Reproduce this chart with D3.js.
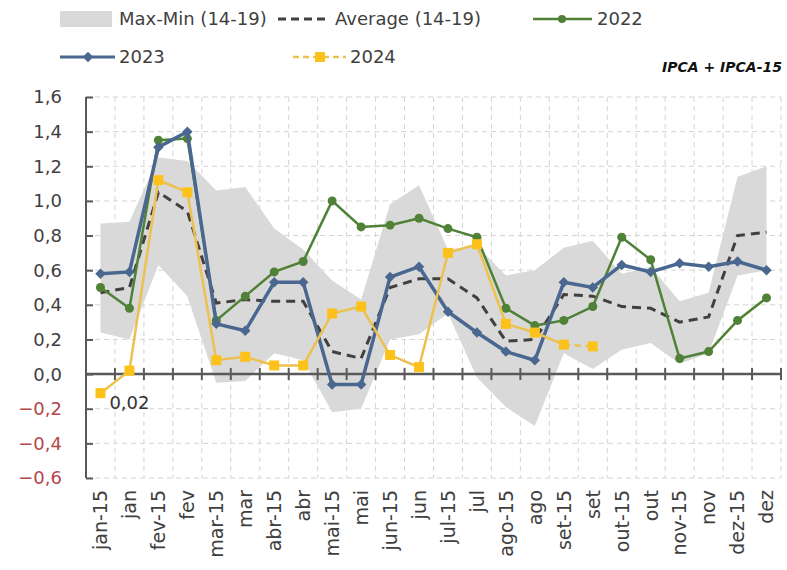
<!DOCTYPE html>
<html>
<head>
<meta charset="utf-8">
<script src="https://cdn.jsdelivr.net/npm/d3@7"></script>
<style>
  html, body { margin: 0; padding: 0; background: #fff; }
  svg text { font-family: "DejaVu Sans", sans-serif; }
</style>
</head>
<body>
<div id="chart"></div>
<script>
  'use strict';

  var categories = ['jan-15', 'jan', 'fev-15', 'fev', 'mar-15', 'mar', 'abr-15', 'abr',
    'mai-15', 'mai', 'jun-15', 'jun', 'jul-15', 'jul', 'ago-15', 'ago',
    'set-15', 'set', 'out-15', 'out', 'nov-15', 'nov', 'dez-15', 'dez'];

  var bandMax = [0.87, 0.88, 1.25, 1.23, 1.06, 1.08, 0.84, 0.72, 0.54, 0.43, 0.98, 1.09,
    0.72, 0.74, 0.57, 0.60, 0.73, 0.77, 0.58, 0.62, 0.42, 0.47, 1.14, 1.20];
  var bandMin = [0.24, 0.20, 0.63, 0.45, -0.05, -0.04, 0.12, 0.08, -0.22, -0.20, 0.20, 0.23,
    0.35, -0.02, -0.19, -0.30, 0.12, 0.03, 0.14, 0.18, 0.06, 0.12, 0.57, 0.60];
  var average = [0.47, 0.50, 1.05, 0.94, 0.41, 0.43, 0.42, 0.42, 0.13, 0.09, 0.50, 0.55,
    0.55, 0.44, 0.19, 0.20, 0.46, 0.45, 0.39, 0.38, 0.30, 0.33, 0.80, 0.82];
  var y2022 = [0.50, 0.38, 1.35, 1.36, 0.31, 0.45, 0.59, 0.65, 1.00, 0.85, 0.86, 0.90,
    0.84, 0.79, 0.38, 0.28, 0.31, 0.39, 0.79, 0.66, 0.09, 0.13, 0.31, 0.44];
  var y2023 = [0.58, 0.59, 1.31, 1.40, 0.29, 0.25, 0.53, 0.53, -0.06, -0.06, 0.56, 0.62,
    0.36, 0.24, 0.13, 0.08, 0.53, 0.50, 0.63, 0.59, 0.64, 0.62, 0.65, 0.60];
  var y2024 = [-0.11, 0.02, 1.12, 1.05, 0.08, 0.10, 0.05, 0.05, 0.35, 0.39, 0.11, 0.04,
    0.70, 0.75, 0.29, 0.24, 0.17, 0.16];

  var yTicks = [-0.6, -0.4, -0.2, 0, 0.2, 0.4, 0.6, 0.8, 1.0, 1.2, 1.4, 1.6];
  var labelIndex = 1; // data label "0,02" on 2024 jan

  (function() {
    var COLORS = {
      band: '#d9d9d9',
      avg: '#404040',
      c2022: '#4f8136',
      c2023: '#4a6790',
      c2024line: '#edc14f',
      c2024mark: '#fcc21b',
      axis: '#595959',
      grid: '#d4d4d4',
      text: '#3f3f3f',
      neg: '#b5464b'
    };

    var W = 787, H = 570;
    var pLeft = 86, pRight = 781, pTop = 97, pBottom = 478;

    var fmt = function(v) { return d3.format('.1f')(v).replace('.', ','); };

    var svg = d3.select('#chart').append('svg')
      .attr('width', W).attr('height', H);

    var x = d3.scaleBand().domain(categories).range([pLeft, pRight]).padding(0);
    var cx = function(i) { return x(categories[i]) + x.bandwidth() / 2; };
    var y = d3.scaleLinear().domain([-0.6, 1.6]).range([pBottom, pTop]);

    // ---- grid -------------------------------------------------------------
    var grid = svg.append('g').attr('class', 'grid');
    grid.selectAll('line.h').data(yTicks.filter(function(t) { return t !== 0; }))
      .enter().append('line')
      .attr('x1', pLeft).attr('x2', pRight)
      .attr('y1', function(d) { return y(d); }).attr('y2', function(d) { return y(d); })
      .attr('stroke', COLORS.grid).attr('stroke-dasharray', '5,4');
    var bounds = categories.map(function(c) { return x(c) + x.bandwidth(); });
    grid.selectAll('line.v').data(bounds)
      .enter().append('line')
      .attr('x1', function(d) { return d; }).attr('x2', function(d) { return d; })
      .attr('y1', pTop).attr('y2', pBottom)
      .attr('stroke', COLORS.grid).attr('stroke-dasharray', '5,4');

    // ---- band -------------------------------------------------------------
    var area = d3.area()
      .x(function(d, i) { return cx(i); })
      .y0(function(d, i) { return y(bandMin[i]); })
      .y1(function(d) { return y(d); });
    svg.append('path').datum(bandMax)
      .attr('d', area).attr('fill', COLORS.band);

    // ---- axes -------------------------------------------------------------
    var yAxis = svg.append('g').attr('transform', 'translate(' + pLeft + ',0)')
      .call(d3.axisRight(y).tickValues(yTicks).tickSize(7).tickFormat(''));
    yAxis.select('.domain').attr('stroke', COLORS.axis).attr('stroke-width', 2)
      .attr('d', 'M0,' + pTop + 'V' + pBottom);
    yAxis.selectAll('.tick line').attr('stroke', COLORS.axis).attr('stroke-width', 2);

    svg.append('g').selectAll('text').data(yTicks).enter().append('text')
      .attr('x', 62).attr('y', function(d) { return y(d); })
      .attr('dy', '0.36em').attr('text-anchor', 'end')
      .attr('font-size', 18)
      .attr('fill', function(d) { return d < 0 ? COLORS.neg : COLORS.text; })
      .text(fmt);

    var xAxisG = svg.append('g');
    xAxisG.append('line')
      .attr('x1', pLeft).attr('x2', pRight).attr('y1', y(0)).attr('y2', y(0))
      .attr('stroke', COLORS.axis).attr('stroke-width', 2.5);
    xAxisG.selectAll('line.tk').data(bounds).enter().append('line')
      .attr('x1', function(d) { return d; }).attr('x2', function(d) { return d; })
      .attr('y1', y(0) - 6).attr('y2', y(0) + 6)
      .attr('stroke', COLORS.axis).attr('stroke-width', 2);

    svg.append('g').selectAll('text').data(categories).enter().append('text')
      .attr('transform', function(d, i) {
        return 'translate(' + cx(i) + ',' + 490 + ') rotate(-90)';
      })
      .attr('dy', '0.36em').attr('text-anchor', 'end')
      .attr('font-size', 19).attr('fill', COLORS.text)
      .text(function(d) { return d; });

    // ---- series -----------------------------------------------------------
    var line = d3.line()
      .x(function(d, i) { return cx(i); })
      .y(function(d) { return y(d); });

    svg.append('path').datum(average)
      .attr('d', line).attr('fill', 'none')
      .attr('stroke', COLORS.avg).attr('stroke-width', 3).attr('stroke-dasharray', '9,6');

    svg.append('path').datum(y2022)
      .attr('d', line).attr('fill', 'none')
      .attr('stroke', COLORS.c2022).attr('stroke-width', 2.5);
    svg.append('g').selectAll('circle').data(y2022).enter().append('circle')
      .attr('cx', function(d, i) { return cx(i); })
      .attr('cy', function(d) { return y(d); })
      .attr('r', 4.5).attr('fill', COLORS.c2022);

    var diamond = d3.symbol().type(d3.symbolDiamond2).size(70);
    svg.append('path').datum(y2023)
      .attr('d', line).attr('fill', 'none')
      .attr('stroke', COLORS.c2023).attr('stroke-width', 3.5);
    svg.append('g').selectAll('path').data(y2023).enter().append('path')
      .attr('d', diamond)
      .attr('transform', function(d, i) { return 'translate(' + cx(i) + ',' + y(d) + ')'; })
      .attr('fill', COLORS.c2023);

    var solid2024 = y2024.slice(0, y2024.length - 1);
    var tail2024 = y2024.slice(y2024.length - 2);
    var tailOffset = y2024.length - 2;
    svg.append('path').datum(solid2024)
      .attr('d', line).attr('fill', 'none')
      .attr('stroke', COLORS.c2024line).attr('stroke-width', 2.5);
    svg.append('path').datum(tail2024)
      .attr('d', d3.line()
        .x(function(d, i) { return cx(i + tailOffset); })
        .y(function(d) { return y(d); }))
      .attr('fill', 'none')
      .attr('stroke', COLORS.c2024line).attr('stroke-width', 2.5)
      .attr('stroke-dasharray', '6,5');
    svg.append('g').selectAll('rect').data(y2024).enter().append('rect')
      .attr('x', function(d, i) { return cx(i) - 5; })
      .attr('y', function(d) { return y(d) - 5; })
      .attr('width', 10).attr('height', 10)
      .attr('fill', COLORS.c2024mark);

    svg.append('text')
      .attr('x', cx(labelIndex)).attr('y', y(y2024[labelIndex]) + 38)
      .attr('text-anchor', 'middle').attr('font-size', 18).attr('fill', '#333')
      .text(d3.format('.2f')(y2024[labelIndex]).replace('.', ','));

    // ---- legend -----------------------------------------------------------
    var lg = svg.append('g').attr('font-size', 18).attr('fill', COLORS.text);
    var r1 = 19, r2 = 57;
    lg.append('rect').attr('x', 60).attr('y', r1 - 8).attr('width', 52).attr('height', 16)
      .attr('fill', COLORS.band);
    lg.append('text').attr('x', 119).attr('y', r1).attr('dy', '0.36em').text('Max-Min (14-19)');
    lg.append('line').attr('x1', 278).attr('x2', 330).attr('y1', r1).attr('y2', r1)
      .attr('stroke', COLORS.avg).attr('stroke-width', 3).attr('stroke-dasharray', '8,5');
    lg.append('text').attr('x', 335).attr('y', r1).attr('dy', '0.36em').text('Average (14-19)');
    lg.append('line').attr('x1', 533).attr('x2', 592).attr('y1', r1).attr('y2', r1)
      .attr('stroke', COLORS.c2022).attr('stroke-width', 2.5);
    lg.append('circle').attr('cx', 562).attr('cy', r1).attr('r', 4).attr('fill', COLORS.c2022);
    lg.append('text').attr('x', 597).attr('y', r1).attr('dy', '0.36em').text('2022');

    lg.append('line').attr('x1', 60).attr('x2', 115).attr('y1', r2).attr('y2', r2)
      .attr('stroke', COLORS.c2023).attr('stroke-width', 3);
    lg.append('path').attr('d', diamond)
      .attr('transform', 'translate(88,' + r2 + ')').attr('fill', COLORS.c2023);
    lg.append('text').attr('x', 119).attr('y', r2).attr('dy', '0.36em').text('2023');
    lg.append('line').attr('x1', 293).attr('x2', 346).attr('y1', r2).attr('y2', r2)
      .attr('stroke', COLORS.c2024line).attr('stroke-width', 2.5).attr('stroke-dasharray', '6,4');
    lg.append('rect').attr('x', 315).attr('y', r2 - 5).attr('width', 10).attr('height', 10)
      .attr('fill', COLORS.c2024mark);
    lg.append('text').attr('x', 350).attr('y', r2).attr('dy', '0.36em').text('2024');

    svg.append('text')
      .attr('x', 782).attr('y', 67).attr('dy', '0.36em').attr('text-anchor', 'end')
      .attr('font-family', '"Open Sans", sans-serif')
      .attr('font-size', 14).attr('font-weight', 'bold').attr('font-style', 'italic')
      .attr('fill', '#111')
      .text('IPCA + IPCA-15');
  })();
</script>
</body>
</html>
